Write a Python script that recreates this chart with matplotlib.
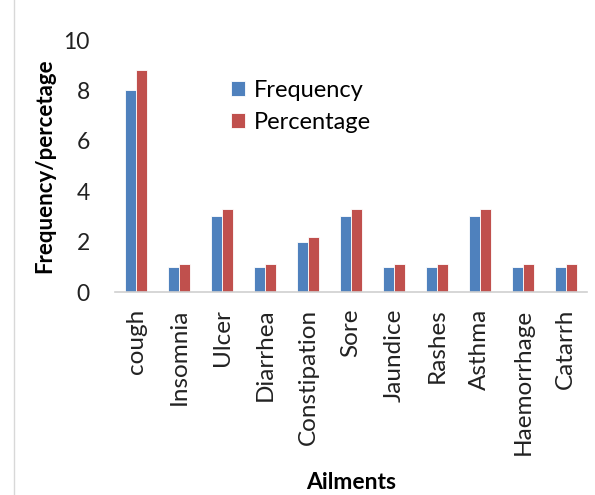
import matplotlib.pyplot as plt
import numpy as np
from matplotlib.lines import Line2D

ailments = ["cough", "Insomnia", "Ulcer", "Diarrhea", "Constipation", "Sore",
            "Jaundice", "Rashes", "Asthma", "Haemorrhage", "Catarrh"]
frequency = [8, 1, 3, 1, 2, 3, 1, 1, 3, 1, 1]
percentage = [8.8, 1.1, 3.3, 1.1, 2.2, 3.3, 1.1, 1.1, 3.3, 1.1, 1.1]

plt.rcParams['font.family'] = ['Lato', 'DejaVu Sans']

fig = plt.figure(figsize=(5.95, 4.95), dpi=100)
ax = fig.add_axes([0.193, 0.41, 0.794, 0.509])

x = np.arange(len(ailments))
w = 0.26
ax.bar(x - w / 2, frequency, w, color="#4F81BD", edgecolor="white", linewidth=0.6, label="Frequency")
ax.bar(x + w / 2, percentage, w, color="#C0504D", edgecolor="white", linewidth=0.6, label="Percentage")

ax.set_xlim(-0.5, len(ailments) - 0.5)
ax.set_ylim(0, 10)
ax.set_yticks([0, 2, 4, 6, 8, 10])
ax.set_xticks(x)
ax.set_xticklabels(ailments, rotation=90, fontsize=17.5, color="#222222")
ax.tick_params(axis="y", labelsize=16.5, length=0, pad=18, labelcolor="#222222")
ax.tick_params(axis="x", length=0, pad=12)

for s in ["top", "right", "left"]:
    ax.spines[s].set_visible(False)
ax.spines["bottom"].set_color("#D0D0D0")
ax.spines["bottom"].set_linewidth(1.2)

ax.set_ylabel("Frequency/percetage", fontsize=16, fontweight="bold", labelpad=6)
ax.set_xlabel("Ailments", fontsize=16.5, fontweight="bold", labelpad=12)

ax.legend(loc="upper left", bbox_to_anchor=(0.2, 0.925), frameon=False, fontsize=17,
          handlelength=0.6, handleheight=0.6, handletextpad=0.4, labelspacing=0.45)

fig.add_artist(Line2D([0.024, 0.024], [0, 1], transform=fig.transFigure, color="#D8D8D8", linewidth=1))

fig.savefig("out.png", dpi=100)
